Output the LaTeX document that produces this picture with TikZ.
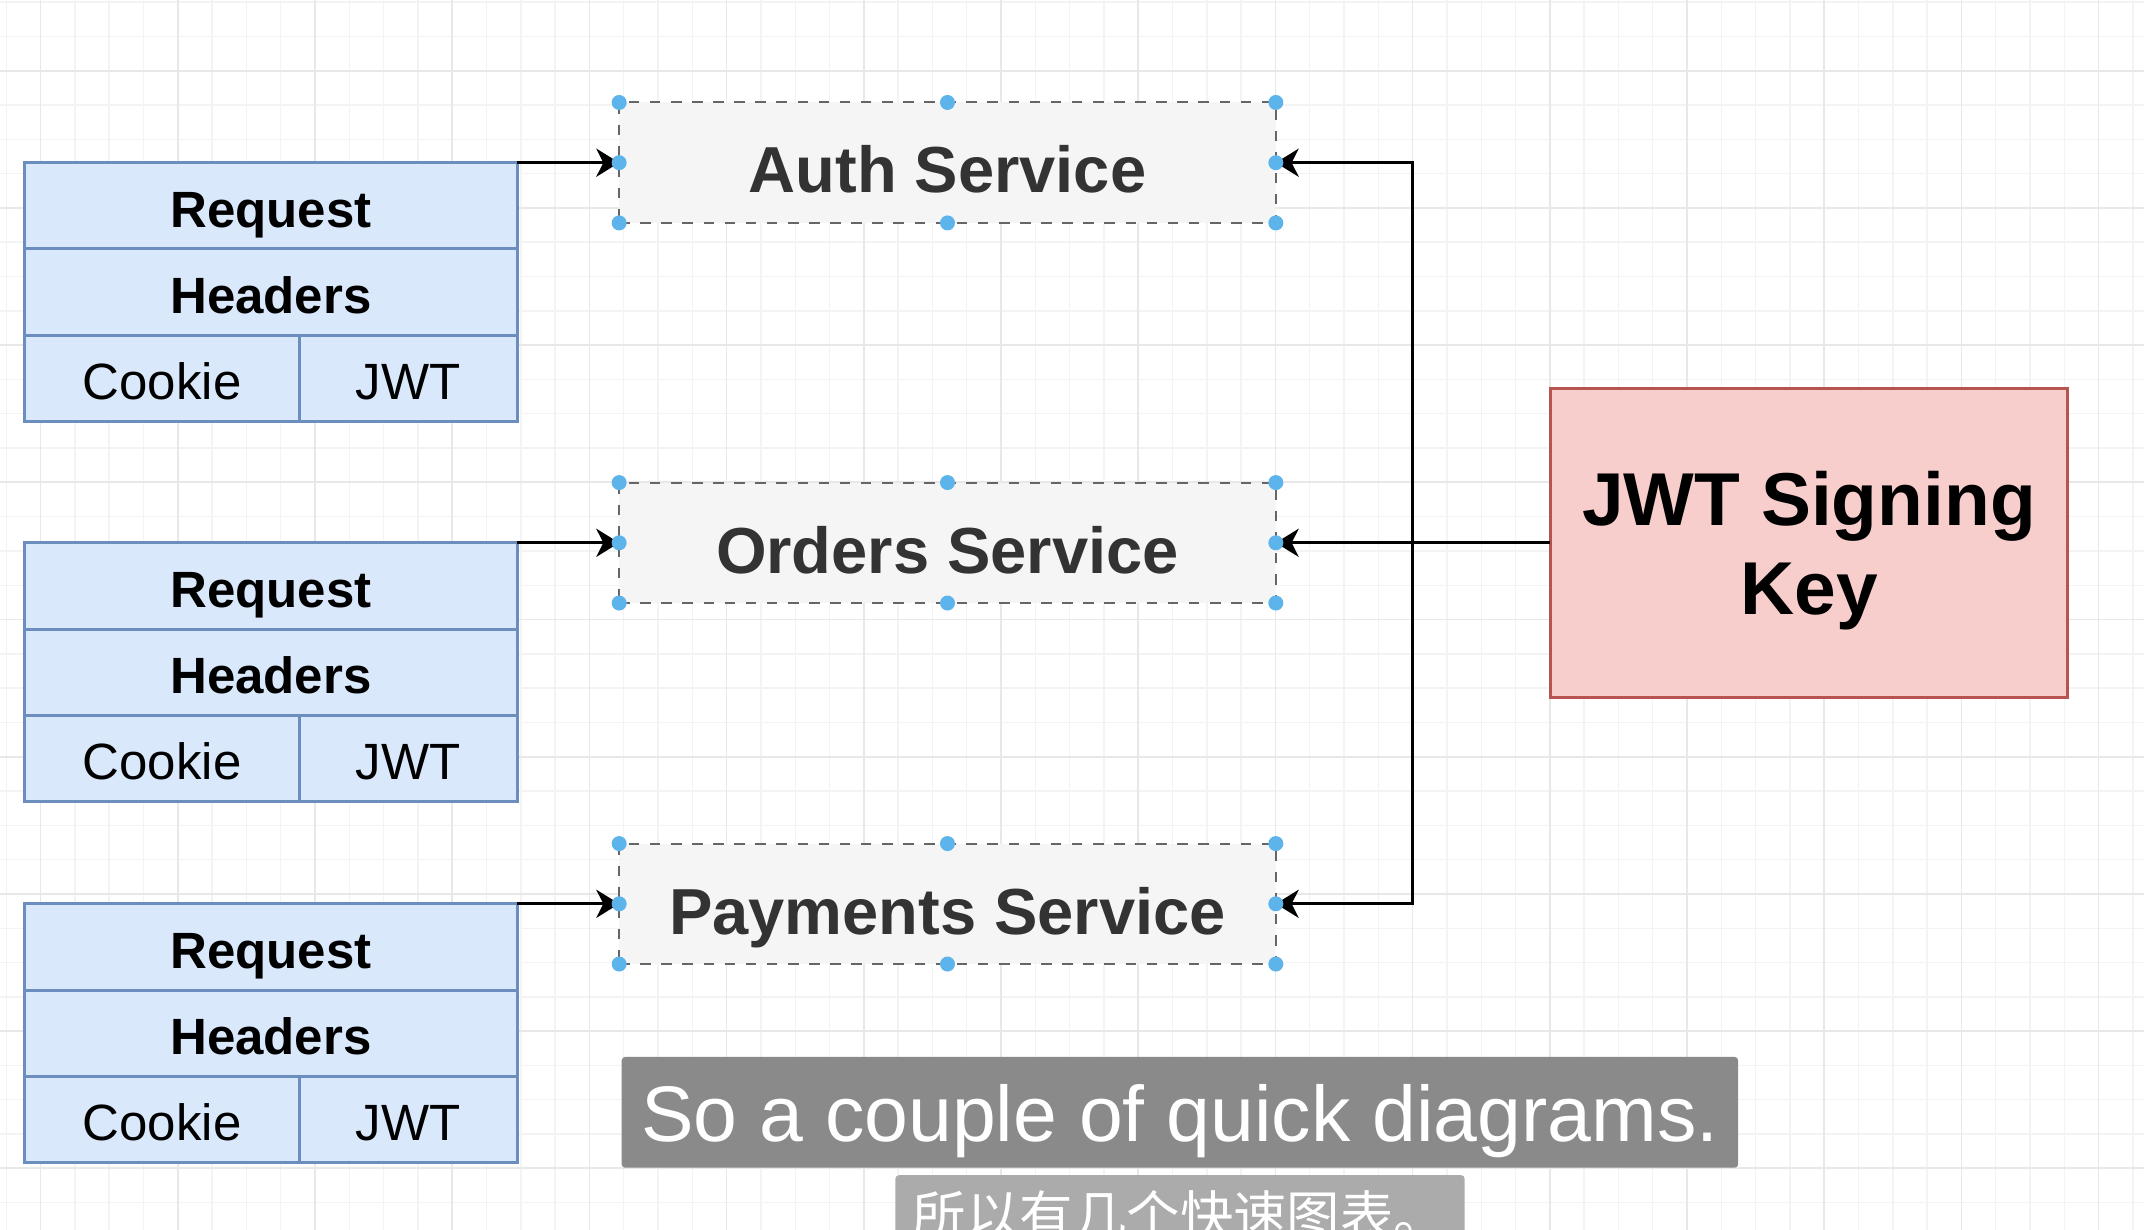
\documentclass[tikz,border=0pt]{standalone}
\usepackage{fontspec}
\setmainfont{Liberation Sans}
\newfontfamily\cjk{Noto Sans CJK SC}
\usetikzlibrary{arrows.meta,positioning}

\definecolor{cellfill}{HTML}{DAE8FC}
\definecolor{celldraw}{HTML}{6C8EBF}
\definecolor{svcfill}{HTML}{F5F5F5}
\definecolor{svcdraw}{HTML}{666666}
\definecolor{svctext}{HTML}{333333}
\definecolor{keyfill}{HTML}{F8CECC}
\definecolor{keydraw}{HTML}{B85450}
\definecolor{handleblue}{HTML}{5DB4EA}
\definecolor{gridminor}{HTML}{F3F3F3}
\definecolor{gridmajor}{HTML}{E8E8E8}
\definecolor{subfill}{HTML}{8A8A8A}
\definecolor{subfilltwo}{HTML}{ABABAB}

\tikzset{
  cell/.style={draw=celldraw, fill=cellfill, line width=0.85pt, minimum height=0.862cm,
    inner sep=0pt, outer sep=0pt, text height=12.2pt, text depth=0pt,
    font=\fontsize{14.5}{17}\selectfont},
  headcell/.style={cell, minimum width=4.922cm, font=\fontsize{14.5}{17}\selectfont\bfseries},
  service/.style={draw=svcdraw, fill=svcfill, dashed, line width=0.55pt, minimum width=6.563cm,
    minimum height=1.204cm, inner sep=0pt, outer sep=0pt, text=svctext,
    text height=17.2pt, text depth=0pt, font=\fontsize{18.5}{22}\selectfont\bfseries},
  keybox/.style={draw=keydraw, fill=keyfill, line width=0.85pt, minimum width=5.169cm,
    minimum height=3.09cm, align=center, outer sep=0pt, text depth=0pt,
    font=\fontsize{21.3}{25.3}\selectfont\bfseries},
  conn/.style={line width=0.85pt, -{Stealth[length=6.5pt,width=8pt,inset=2pt]}},
  handle/.style={fill=handleblue},
  subtitle/.style={fill=subfill, rounded corners=1pt, text=white, minimum width=11.158cm,
    minimum height=1.108cm, inner sep=0pt, text height=16.6pt, text depth=0pt,
    font=\fontsize{22.4}{26}\selectfont},
  subtitlecn/.style={fill=subfilltwo, rounded corners=1pt, text=white, minimum width=5.688cm,
    minimum height=0.8cm, inner sep=0pt, font=\cjk\fontsize{15.2}{18}\selectfont},
}

\begin{document}
\begin{tikzpicture}[x=0.01cm,y=-0.01cm]
	\useasboundingbox (0,0) rectangle (2144,1230);
	\fill [white] (0,0) rectangle (2144,1230);

	% grid
	\foreach \i in {0,...,62}
		\draw [gridminor,line width=0.4pt] ({6.3+34.3*\i},0) -- ++(0,1230);
	\foreach \i in {0,...,36}
		\draw [gridminor,line width=0.4pt] (0,{2.1+34.3*\i}) -- ++(2144,0);
	\foreach \i in {0,...,15}
		\draw [gridmajor,line width=0.5pt] ({40.6+137.2*\i},0) -- ++(0,1230);
	\foreach \i in {0,...,8}
		\draw [gridmajor,line width=0.5pt] (0,{70.7+137.2*\i}) -- ++(2144,0);

	% services
	\node [service] (auth) at (947.5,162.7) {Auth Service};
	\node [service] (orders) at (947.5,542.8) {Orders Service};
	\node [service] (pay) at (947.5,903.8) {Payments Service};

	% request tables
	\foreach \t/\y in {1/162.7,2/542.8,3/903.8} {
		\node [headcell,anchor=north west] (req\t) at (24.6,\y) {Request};
		\node [headcell,below=0pt of req\t] (hdr\t) {Headers};
		\node [cell,minimum width=2.748cm,anchor=north west] (ck\t) at (hdr\t.south west) {Cookie};
		\node [cell,minimum width=2.174cm,anchor=north west] (jw\t) at (ck\t.north east) {JWT};
	}

	% signing key
	\node [keybox] (key) at (1809,542.8) {JWT Signing\\Key};

	% connectors
	\draw [conn] (req1.north east) -- (auth.west);
	\draw [conn] (req2.north east) -- (orders.west);
	\draw [conn] (req3.north east) -- (pay.west);
	\coordinate (bus) at (1412.4,542.8);
	\draw [conn] (key.west) -- (orders.east);
	\draw [conn] (bus) |- (auth.east);
	\draw [conn] (bus) |- (pay.east);

	% selection handles
	\foreach \s in {auth,orders,pay}
		\foreach \a in {north west,north,north east,east,south east,south,south west,west}
			\fill [handle] (\s.\a) circle (7.5);

	% subtitles
	\node [subtitle] (sub) at (1179.9,1112.3) {So a couple of quick diagrams.};
	\node [subtitlecn,anchor=north] (subcn) at (1180,1174.5) {所以有几个快速图表。};
\end{tikzpicture}
\end{document}
